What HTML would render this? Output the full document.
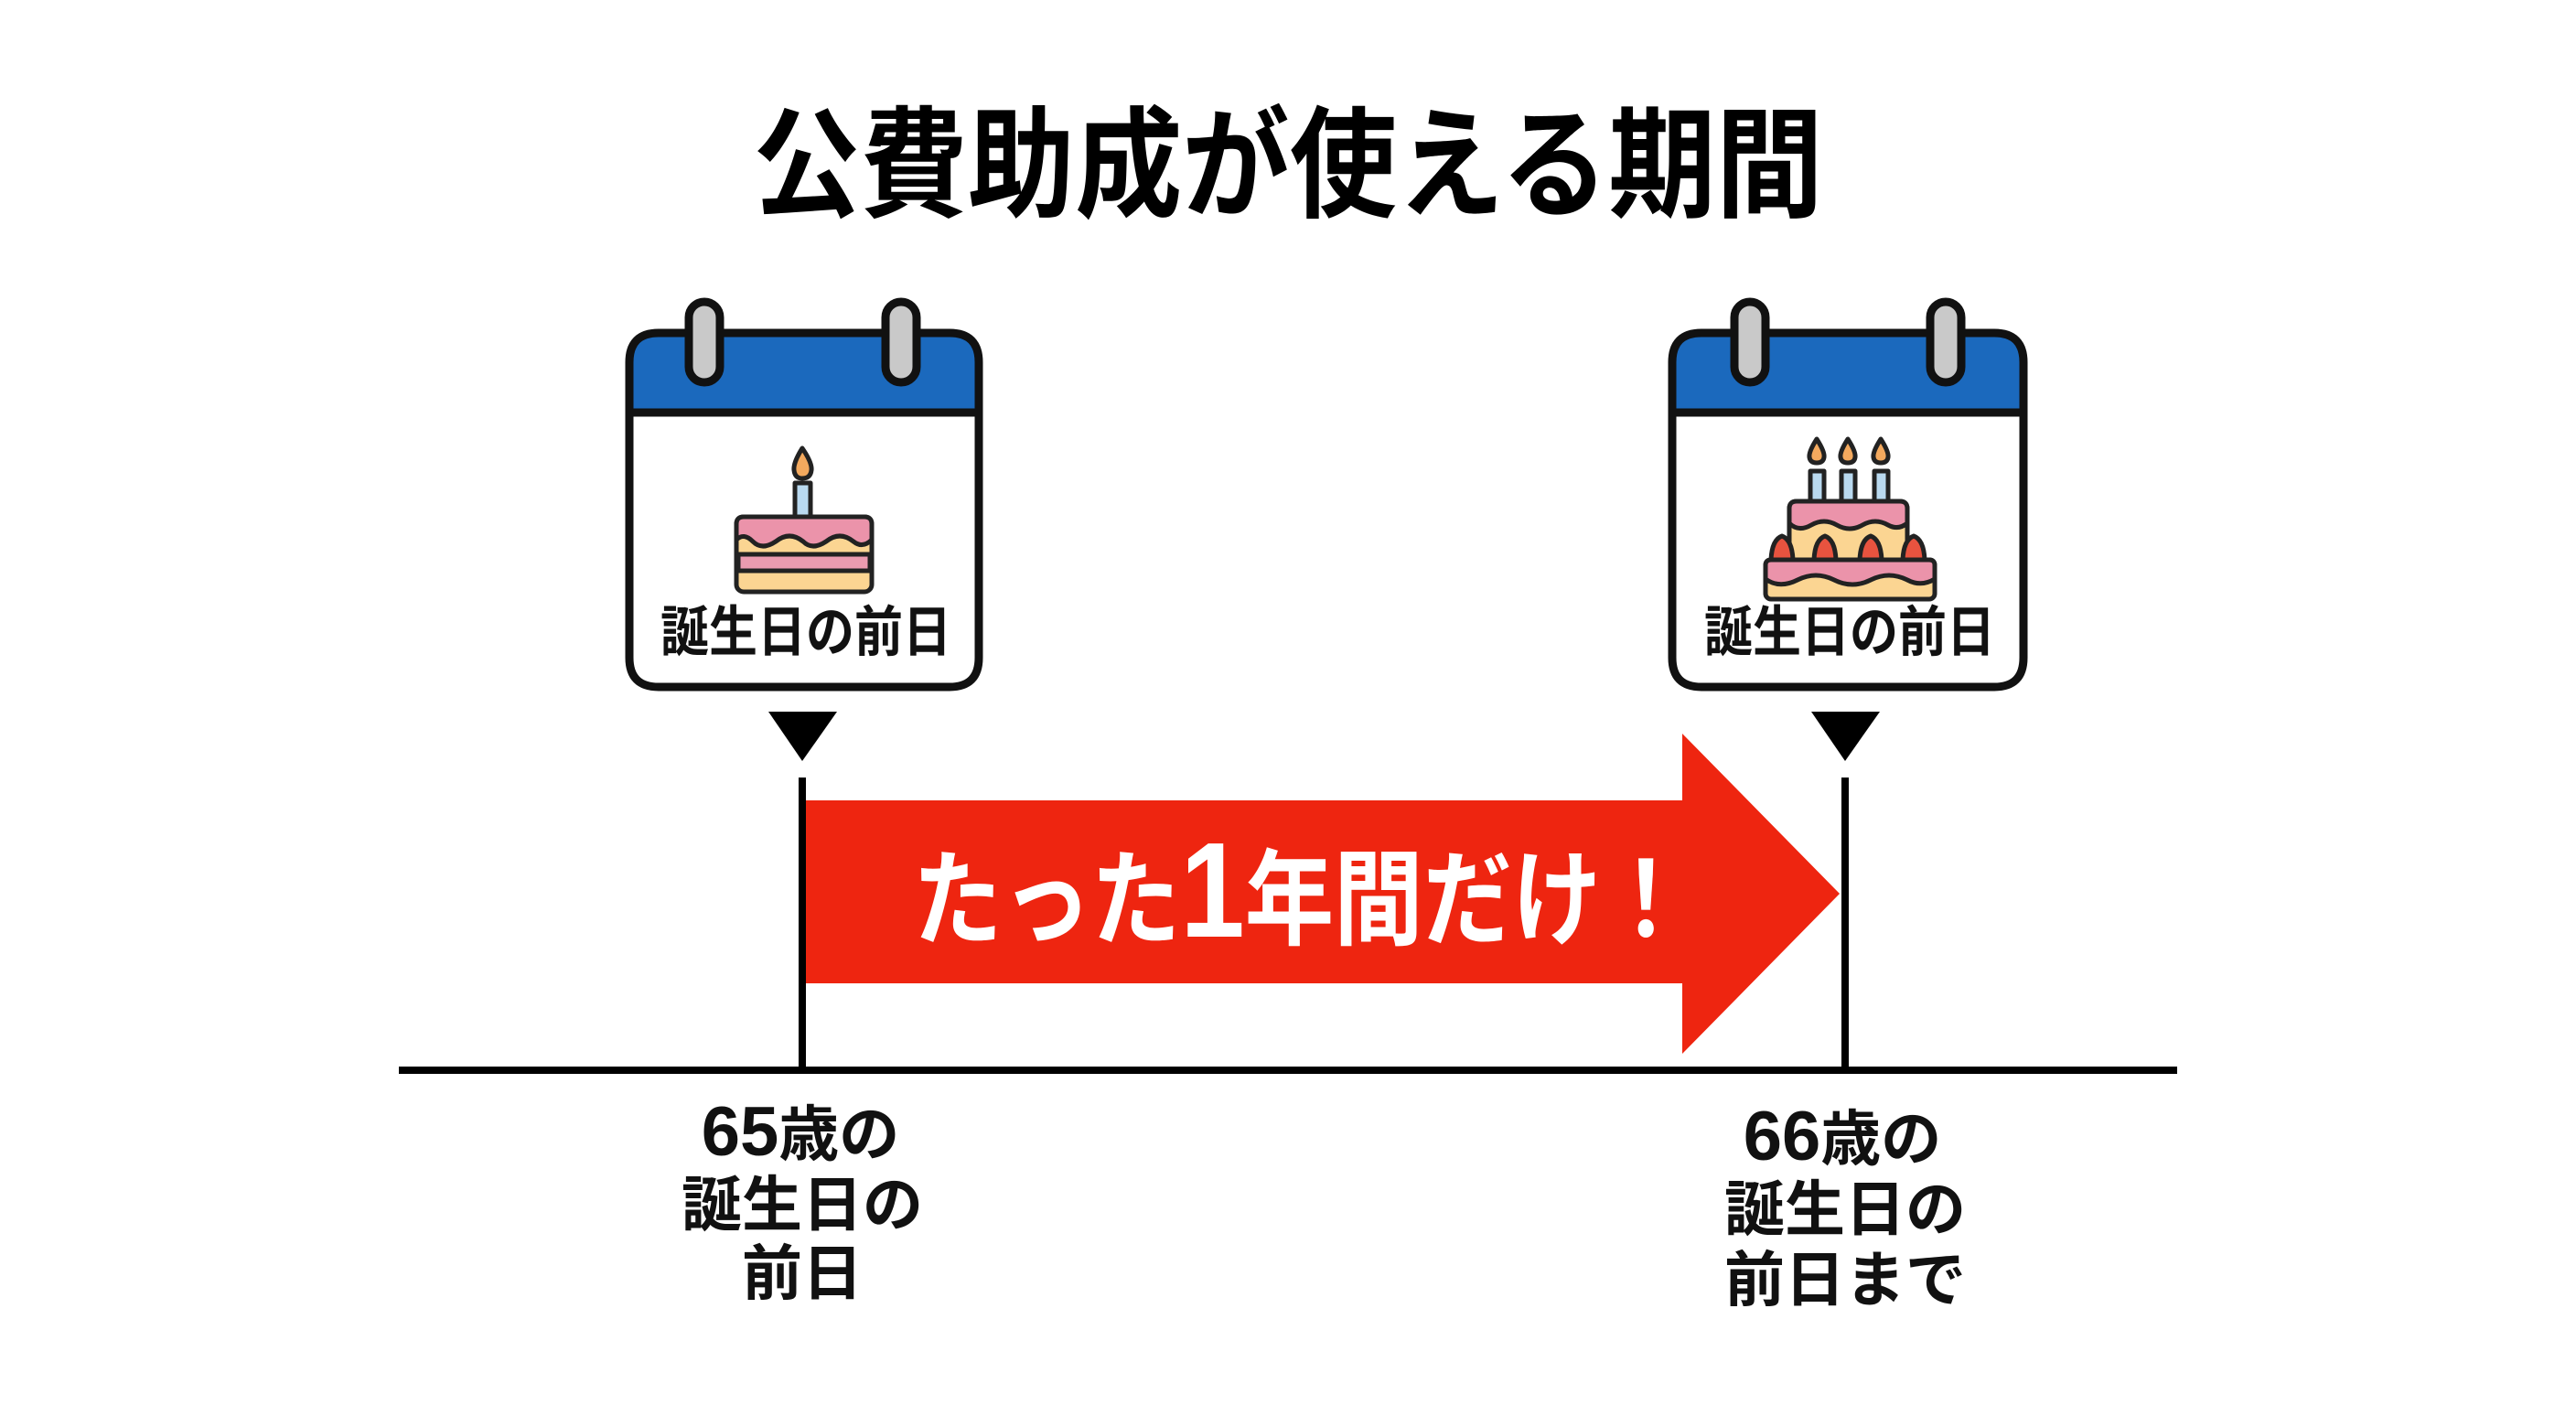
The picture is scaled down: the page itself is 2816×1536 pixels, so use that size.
<!DOCTYPE html>
<html><head><meta charset="utf-8">
<style>
html,body{margin:0;padding:0;background:#fff;}
svg{display:block;}
text{font-family:"Liberation Sans","Noto Sans CJK JP",sans-serif;font-weight:bold;}
</style></head>
<body>
<svg width="2816" height="1536" viewBox="0 0 2816 1536" xmlns="http://www.w3.org/2000/svg">
<rect width="2816" height="1536" fill="#ffffff"/>
<text x="1408" y="227" font-size="132" text-anchor="middle" fill="#000" font-family="Noto Sans CJK JP, sans-serif" font-weight="900" textLength="1170" lengthAdjust="spacingAndGlyphs">公費助成が使える期間</text>

<g stroke="#111" stroke-width="9">
  <path d="M688 451 V396 Q688 364 720 364 H1038 Q1070 364 1070 396 V451 Z" fill="#1b69bd"/>
  <path d="M688 451 H1070 V719 Q1070 751 1038 751 H720 Q688 751 688 719 Z" fill="#fff"/>
  <rect x="753" y="330" width="34" height="88" rx="17" fill="#c9c9c9"/>
  <rect x="968" y="330" width="34" height="88" rx="17" fill="#c9c9c9"/>
</g>
<g stroke="#222" stroke-width="5" stroke-linejoin="round">
  <rect x="869" y="528" width="17" height="38" fill="#b9d9ef"/>
  <path d="M877 490 Q867 506 868 514 Q869 523 877 523 Q886 523 887 514 Q888 506 877 490 Z" fill="#f3a95e"/>
  <rect x="805" y="565" width="148" height="82" rx="8" fill="#fbd592"/>
  <rect x="807" y="606" width="144" height="18" fill="#eb9bb0"/>
  <path d="M805 590 V573 Q805 565 813 565 H945 Q953 565 953 573 V590 Q943 600 933 592 Q918 580 903 592 Q888 602 878 592 Q863 580 848 592 Q833 602 823 592 Q813 582 805 590 Z" fill="#eb93aa"/>
</g>
<text x="722" y="712" font-size="60" fill="#111" textLength="318" lengthAdjust="spacingAndGlyphs">誕生日の前日</text>
<polygon points="840,778 915,778 877,832" fill="#000"/>

<g stroke="#111" stroke-width="9">
  <path d="M1828 451 V396 Q1828 364 1860 364 H2180 Q2212 364 2212 396 V451 Z" fill="#1b69bd"/>
  <path d="M1828 451 H2212 V719 Q2212 751 2180 751 H1860 Q1828 751 1828 719 Z" fill="#fff"/>
  <rect x="1896" y="330" width="34" height="88" rx="17" fill="#c9c9c9"/>
  <rect x="2110" y="330" width="34" height="88" rx="17" fill="#c9c9c9"/>
</g>
<g stroke="#222" stroke-width="5" stroke-linejoin="round">
  <rect x="1979" y="515" width="15" height="34" fill="#b9d9ef"/>
  <rect x="2013" y="515" width="15" height="34" fill="#b9d9ef"/>
  <rect x="2049" y="515" width="15" height="34" fill="#b9d9ef"/>
  <path d="M1986 480 Q1977 494 1978 500 Q1979 506 1986 506 Q1993 506 1994 500 Q1995 494 1986 480 Z" fill="#f3a95e"/>
  <path d="M2020 480 Q2011 494 2012 500 Q2013 506 2020 506 Q2027 506 2028 500 Q2029 494 2020 480 Z" fill="#f3a95e"/>
  <path d="M2056 480 Q2047 494 2048 500 Q2049 506 2056 506 Q2063 506 2064 500 Q2065 494 2056 480 Z" fill="#f3a95e"/>
  <rect x="1956" y="548" width="129" height="66" rx="8" fill="#fbd592"/>
  <path d="M1956 572 V556 Q1956 548 1964 548 H2077 Q2085 548 2085 556 V572 Q2075 580 2064 574 Q2050 566 2036 574 Q2022 582 2008 574 Q1994 566 1980 574 Q1966 582 1956 572 Z" fill="#eb93aa"/>
  <path d="M1936 612 Q1937 590 1948 586 Q1959 590 1960 612 Z" fill="#e8533f"/>
  <path d="M1983 612 Q1984 590 1995 586 Q2006 590 2007 612 Z" fill="#e8533f"/>
  <path d="M2033 612 Q2034 590 2045 586 Q2056 590 2057 612 Z" fill="#e8533f"/>
  <path d="M2080 612 Q2081 590 2092 586 Q2103 590 2104 612 Z" fill="#e8533f"/>
  <rect x="1930" y="612" width="185" height="43" rx="6" fill="#fbd592"/>
  <path d="M1930 633 V618 Q1930 612 1936 612 H2109 Q2115 612 2115 618 V633 Q2100 642 2085 634 Q2065 624 2045 634 Q2025 644 2005 634 Q1985 624 1965 634 Q1945 644 1930 633 Z" fill="#eb93aa"/>
</g>
<text x="1863" y="712" font-size="60" fill="#111" textLength="318" lengthAdjust="spacingAndGlyphs">誕生日の前日</text>
<polygon points="1980,778 2055,778 2017,832" fill="#000"/>

<polygon points="880,875 1839,875 1839,802 2011,977 1839,1152 1839,1075 880,1075" fill="#ee2510"/>
<text x="998" y="1024" fill="#fff" font-family="Noto Sans CJK JP, sans-serif" font-weight="900" textLength="850" lengthAdjust="spacingAndGlyphs"><tspan font-size="114">たった</tspan><tspan font-size="148">1</tspan><tspan font-size="114">年間だけ！</tspan></text>

<rect x="873" y="850" width="8" height="322" fill="#000"/>
<rect x="2013" y="850" width="8" height="322" fill="#000"/>
<rect x="436" y="1166" width="1944" height="8" fill="#000"/>

<g font-size="66" text-anchor="middle" fill="#111" font-family="Noto Sans CJK JP, sans-serif" font-weight="900">
  <text x="875" y="1263"><tspan font-size="76">65</tspan>歳の</text>
  <text x="877" y="1340">誕生日の</text>
  <text x="877" y="1415">前日</text>
  <text x="2014" y="1268"><tspan font-size="76">66</tspan>歳の</text>
  <text x="2017" y="1345">誕生日の</text>
  <text x="2017" y="1422">前日まで</text>
</g>
</svg>
</body></html>
